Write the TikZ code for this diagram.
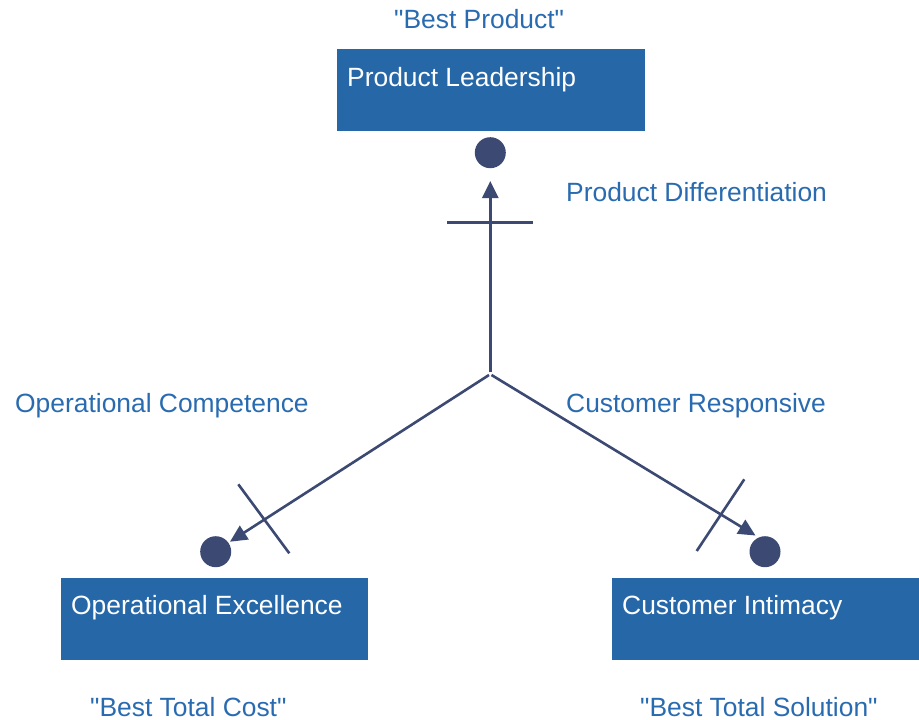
\documentclass[tikz,border=0pt]{standalone}
\usepackage{fontspec}
\setmainfont{Liberation Sans}
\newfontfamily\plainsans{Liberation Sans}
\usetikzlibrary{arrows.meta}
\definecolor{boxblue}{RGB}{38,103,168}
\definecolor{txtblue}{RGB}{41,107,176}
\definecolor{navy}{RGB}{59,73,115}
\tikzset{
  box/.style={fill=boxblue, draw=none, inner sep=0pt},
  boxtext/.style={text=white, anchor=base west, inner sep=0pt, font=\plainsans\fontsize{26.4}{30}\selectfont},
  lbl/.style={text=txtblue, anchor=base west, inner sep=0pt, font=\plainsans\fontsize{26.4}{30}\selectfont},
  dot/.style={circle, fill=navy, draw=none, minimum size=31pt, inner sep=0pt},
  conn/.style={draw=navy, line width=2.6pt, -{Triangle[length=17pt,width=16pt]}},
  bar/.style={draw=navy, line width=2.6pt}
}
\begin{document}
\begin{tikzpicture}[x=1pt,y=-1pt]
\useasboundingbox (0,0) rectangle (919,720);
% boxes
\node[box, minimum width=308pt, minimum height=82pt, anchor=north west] (pl) at (337,49) {};
\node[box, minimum width=307pt, minimum height=82pt, anchor=north west] (oe) at (61,578) {};
\node[box, minimum width=307pt, minimum height=82pt, anchor=north west] (ci) at (612,578) {};
\node[boxtext] (plt) at (347,86) {Product Leadership};
\node[boxtext] (oet) at (71,614) {Operational Excellence};
\node[boxtext] (cit) at (622,614) {Customer Intimacy};
% labels
\node[lbl] (bp) at (394,28) {"Best Product"};
\node[lbl] (pd) at (566,201) {Product Differentiation};
\node[lbl] (oc) at (15,412) {Operational Competence};
\node[lbl] (cr) at (566,412) {Customer Responsive};
\node[lbl] (btc) at (90,716) {"Best Total Cost"};
\node[lbl] (bts) at (640,716) {"Best Total Solution"};
% dots
\node[dot] (d1) at (490.3,152.7) {};
\node[dot] (d2) at (215.7,551.7) {};
\node[dot] (d3) at (765,551.7) {};
% connectors
\coordinate (jt) at (490.3,372);
\coordinate (jl) at (489,375);
\coordinate (jr) at (491.5,375);
\coordinate (t1) at (490.3,181);
\coordinate (t2) at (230,541.7);
\coordinate (t3) at (755.5,535.5);
\draw[conn] (jt) -- (t1);
\draw[conn] (jl) -- (t2);
\draw[conn] (jr) -- (t3);
% cross bars
\draw[bar] (447.3,222.7) -- (533.3,222.7);
\draw[bar] (238.3,484.3) -- (289.3,553.3);
\draw[bar] (744.3,479.3) -- (696.7,551);
\end{tikzpicture}
\end{document}
